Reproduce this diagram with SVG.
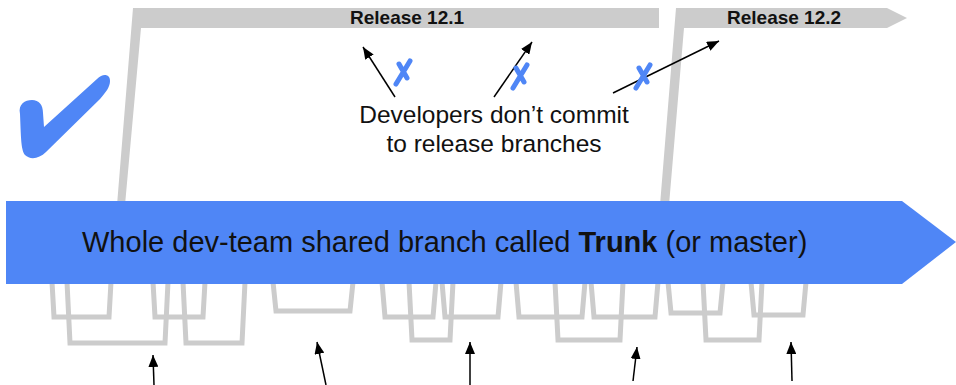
<svg xmlns="http://www.w3.org/2000/svg" width="956" height="385" viewBox="0 0 956 385">
<style>
.rel{fill:#cccccc}
.fb{fill:none;stroke:#cccccc;stroke-width:5;stroke-linejoin:miter}
.blue{fill:#4f86f6}
.x{fill:none;stroke:#4f86f6;stroke-width:5;stroke-linecap:round}
.arr{fill:none;stroke:#000;stroke-width:1.5;marker-end:url(#ah)}
.lbl{font-family:"Liberation Sans",Arial,sans-serif;font-weight:bold;font-size:19px;fill:#111}
.note{font-family:"Liberation Sans",Arial,sans-serif;font-size:24.5px;fill:#111;text-anchor:middle}
.trunk{font-family:"Liberation Sans",Arial,sans-serif;font-size:29px;fill:#111}
</style>
<defs>
<marker id="ah" markerUnits="userSpaceOnUse" markerWidth="13" markerHeight="10" refX="12" refY="5" orient="auto">
<path d="M0,0 L12,5 L0,10 z" fill="#000"/>
</marker>
</defs>
<g id="feature-branches">
<polyline class="fb" points="52,282 54,317 109,317 111,282"/>
<polyline class="fb" points="67,282 70,343 165,343 168,282"/>
<polyline class="fb" points="153,282 155,317 203,317 205,282"/>
<polyline class="fb" points="183,282 186,343 242,343 245,282"/>
<polyline class="fb" points="273,282 276,311 350,311 353,282"/>
<polyline class="fb" points="382,282 385,317 433,317 436,282"/>
<polyline class="fb" points="409,282 412,340 450,340 453,282"/>
<polyline class="fb" points="442,282 445,317 498,317 501,282"/>
<polyline class="fb" points="516,282 519,317 582,317 585,282"/>
<polyline class="fb" points="555,282 558,340 620,340 623,282"/>
<polyline class="fb" points="591,282 594,317 655,317 658,282"/>
<polyline class="fb" points="668,282 671,313 720,313 723,282"/>
<polyline class="fb" points="703,282 706,340 759,340 762,282"/>
<polyline class="fb" points="751,282 754,315 803,315 806,282"/>
</g>
<g id="release-12-1">
<polygon class="rel" points="133,8 659,8 659,28 141,28 125,205 117,205"/>
<text class="lbl" x="350" y="24">Release 12.1</text>
</g>
<g id="release-12-2">
<polygon class="rel" points="676,8 887,8 907,18 887,28 684,28 669,205 660,205"/>
<text class="lbl" x="727" y="24">Release 12.2</text>
</g>
<g id="trunk">
<polygon class="blue" points="6,201 902,201 956,242 902,284 6,284"/>
<text class="trunk" x="82" y="252">Whole dev-team shared branch called <tspan font-weight="bold">Trunk</tspan> (or master)</text>
</g>
<g id="checkmark">
<path class="blue" d="M20,114 C18,104 25,100 32,100 C39,100 43,105 43,113 L44,127 L97,79 C103,73 110,74 110,81 C110,87 106,92 100,99 L46,152 C39,159 30,160 25,155 C21,150 21,138 20,114 Z"/>
</g>
<g id="note">
<text class="note" x="494" y="123">Developers don’t commit</text>
<text class="note" x="494" y="152">to release branches</text>
</g>
<g id="connectors">
<line class="arr" x1="395" y1="97" x2="363" y2="47"/>
<line class="arr" x1="494" y1="97" x2="532" y2="42"/>
<line class="arr" x1="613" y1="93" x2="719" y2="41"/>
<line class="arr" x1="154" y1="385" x2="153" y2="355"/>
<line class="arr" x1="326" y1="385" x2="317" y2="342"/>
<line class="arr" x1="470" y1="385" x2="470" y2="342"/>
<line class="arr" x1="633" y1="381" x2="637" y2="347"/>
<line class="arr" x1="792" y1="381" x2="791" y2="342"/>
</g>
<g id="crosses">
<path class="x" d="M410,61 L396,84 M399,64 L407,78"/>
<path class="x" d="M527,65 L513,88 M516,68 L524,82"/>
<path class="x" d="M650,65 L636,88 M639,68 L647,82"/>
</g>
</svg>
